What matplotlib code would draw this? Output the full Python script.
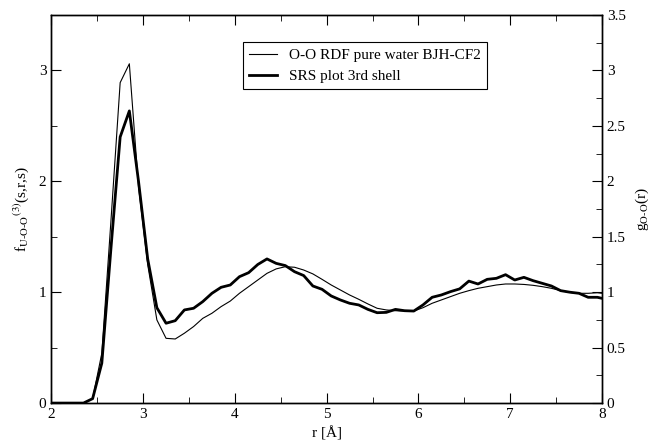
import numpy as np
import matplotlib
matplotlib.use("Agg")
import matplotlib.pyplot as plt
from matplotlib.ticker import MultipleLocator, FormatStrFormatter

# r grid (Angstrom) and the two curves
r = [2.0, 2.05, 2.15, 2.25, 2.35, 2.45, 2.55, 2.65, 2.75, 2.85, 2.95,
     3.05, 3.15, 3.25, 3.35, 3.45, 3.55, 3.65, 3.75, 3.85, 3.95,
     4.05, 4.15, 4.25, 4.35, 4.45, 4.55, 4.65, 4.75, 4.85, 4.95,
     5.05, 5.15, 5.25, 5.35, 5.45, 5.55, 5.65, 5.75, 5.85, 5.95,
     6.05, 6.15, 6.25, 6.35, 6.45, 6.55, 6.65, 6.75, 6.85, 6.95,
     7.05, 7.15, 7.25, 7.35, 7.45, 7.55, 7.65, 7.75, 7.85, 7.95, 8.0]

g_oo = [0.0, 0.0, 0.0, 0.0, 0.0, 0.04, 0.45, 1.65, 2.89, 3.06, 1.95,
        1.25, 0.75, 0.584, 0.578, 0.63, 0.69, 0.764, 0.81, 0.87, 0.92,
        0.99, 1.05, 1.11, 1.17, 1.21, 1.23, 1.225, 1.20, 1.165, 1.116,
        1.065, 1.02, 0.975, 0.936, 0.894, 0.855, 0.84, 0.833, 0.83, 0.83,
        0.86, 0.90, 0.93, 0.96, 0.99, 1.014, 1.035, 1.05, 1.065, 1.074,
        1.074, 1.07, 1.062, 1.05, 1.035, 1.014, 0.998, 0.99, 0.99, 0.995, 0.99]

srs = [0.0, 0.0, 0.0, 0.0, 0.0, 0.04, 0.36, 1.40, 2.40, 2.635, 2.0,
       1.30, 0.86, 0.72, 0.743, 0.84, 0.855, 0.915, 0.99, 1.044, 1.065,
       1.14, 1.176, 1.25, 1.30, 1.26, 1.24, 1.185, 1.15, 1.056, 1.026,
       0.966, 0.93, 0.90, 0.885, 0.845, 0.815, 0.818, 0.845, 0.833, 0.83,
       0.885, 0.954, 0.975, 1.005, 1.03, 1.10, 1.074, 1.116, 1.125, 1.158,
       1.11, 1.134, 1.104, 1.08, 1.056, 1.014, 1.0, 0.99, 0.954, 0.954, 0.945]

plt.rcParams['font.family'] = ['Liberation Serif', 'DejaVu Serif']
plt.rcParams['mathtext.fontset'] = 'stix'
plt.rcParams['font.size'] = 11

fig = plt.figure(figsize=(6.5, 4.41), dpi=100)
ax = fig.add_axes([0.079, 0.086, 0.847, 0.88])
ax2 = ax.twinx()

ax2.plot(r, g_oo, color='black', linewidth=0.8, label='O-O RDF pure water BJH-CF2')
ax.plot(r, srs, color='black', linewidth=2.0, label='SRS plot 3rd shell')

ax.set_xlim(2, 8)
ax.set_ylim(0, 3.5)
ax2.set_ylim(0, 3.5)

ax.xaxis.set_major_locator(MultipleLocator(1))
ax.xaxis.set_minor_locator(MultipleLocator(0.5))
ax.yaxis.set_major_locator(MultipleLocator(1))
ax.yaxis.set_minor_locator(MultipleLocator(0.5))
ax2.yaxis.set_major_locator(MultipleLocator(0.5))
ax2.yaxis.set_minor_locator(MultipleLocator(0.25))
ax2.yaxis.set_major_formatter(FormatStrFormatter('%g'))

ax.tick_params(which='both', direction='in', top=True, right=False)
ax.tick_params(which='major', length=7)
ax.tick_params(which='minor', length=4)
ax2.tick_params(which='both', direction='in')
ax2.tick_params(which='major', length=7)
ax2.tick_params(which='minor', length=4)

ax.set_xlabel('r [Å]', labelpad=4)
ax.set_ylabel(r'f$_{\rm U\text{-}O\text{-}O}$$^{(3)}$(s,r,s)', labelpad=6)
ax2.set_ylabel(r'g$_{\rm O\text{-}O}$(r)', rotation=90, labelpad=6)

for a in (ax, ax2):
    for s in a.spines.values():
        s.set_linewidth(1.0)

h1, l1 = ax2.get_legend_handles_labels()
h2, l2 = ax.get_legend_handles_labels()
leg = ax.legend(h1 + h2, l1 + l2, loc='upper left', bbox_to_anchor=(0.348, 0.93),
                fancybox=False, edgecolor='black', framealpha=1, borderaxespad=0,
                handlelength=1.8, fontsize=11)
leg.get_frame().set_linewidth(0.8)

fig.savefig('out.png', dpi=100)
